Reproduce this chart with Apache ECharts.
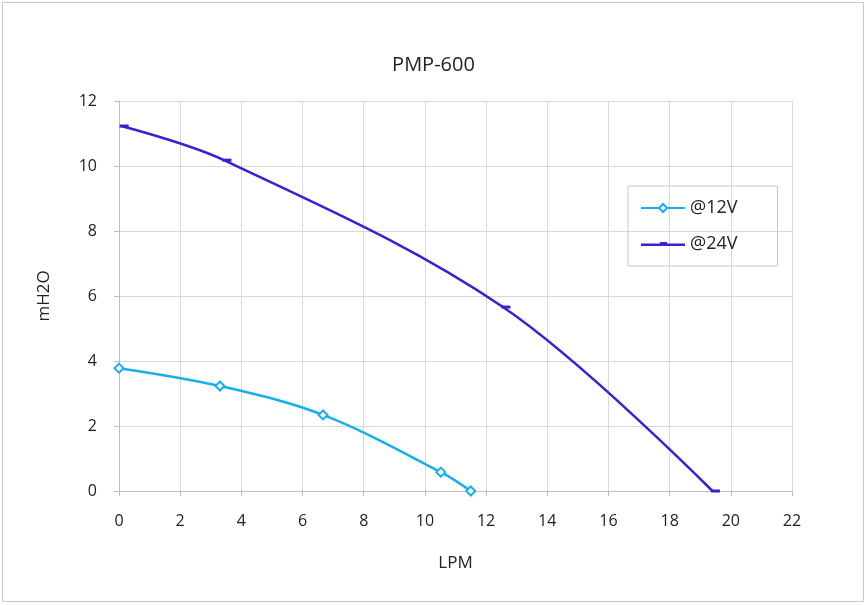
<!DOCTYPE html>
<html><head><meta charset="utf-8">
<script src="https://cdn.jsdelivr.net/npm/echarts@6/dist/echarts.min.js"></script>
<style>html,body{margin:0;padding:0;background:#fff}#c{width:867px;height:605px}</style>
</head><body><div id="c"></div>
<script>
const seriesNames = ['@12V', '@24V'];
const flow12 = [0, 3.3, 6.67, 10.52, 11.5];
const head12 = [3.78, 3.23, 2.34, 0.58, 0];
const flow24 = [0.07, 3.43, 12.55, 19.4];
const head24 = [11.23, 10.18, 5.66, 0];
const xTicks = [0, 22, 2];
const yTicks = [0, 12, 2];

const font = '"Open Sans", "Liberation Sans", sans-serif';
const chart = echarts.init(document.getElementById('c'));
chart.setOption({
  animation: false,
  textStyle: {fontFamily: font},
  title: {text: 'PMP-600', left: 'center', top: 50, textStyle: {fontSize: 20, fontWeight: 'normal', color: '#222', fontFamily: font}},
  graphic: [{type: 'rect', shape: {x: 2.5, y: 2.5, width: 861, height: 599}, style: {fill: 'none', stroke: '#c8c8c8', lineWidth: 1}}],
  grid: {left: 119, right: 75, top: 101, bottom: 114},
  legend: {
    orient: 'vertical', left: 628, top: 186,
    padding: [13, 40, 13, 12], itemGap: 18, itemWidth: 44, itemHeight: 10,
    borderColor: '#c8c8c8', borderWidth: 1,
    textStyle: {fontSize: 18, color: '#222', fontFamily: font},
    data: [
      {name: seriesNames[0]},
      {name: seriesNames[1], icon: 'path://M0,4 L44,4 L44,6.4 L0,6.4 Z M19,2.6 L26,2.6 L26,5 L19,5 Z'}
    ]
  },
  xAxis: {
    type: 'value', min: xTicks[0], max: xTicks[1], interval: xTicks[2],
    name: 'LPM', nameLocation: 'middle', nameGap: 64,
    nameTextStyle: {fontSize: 17, color: '#222'},
    axisLine: {lineStyle: {color: '#bfbfbf'}},
    axisTick: {show: true, length: 5, lineStyle: {color: '#bfbfbf'}},
    axisLabel: {fontSize: 16, color: '#222', margin: 22},
    splitLine: {lineStyle: {color: '#d9d9d9'}}
  },
  yAxis: {
    type: 'value', min: yTicks[0], max: yTicks[1], interval: yTicks[2],
    name: 'mH2O', nameLocation: 'middle', nameGap: 66,
    nameTextStyle: {fontSize: 17, color: '#222'},
    axisLine: {show: true, lineStyle: {color: '#bfbfbf'}},
    axisTick: {show: true, length: 5, lineStyle: {color: '#bfbfbf'}},
    axisLabel: {fontSize: 16, color: '#222', margin: 22},
    splitLine: {lineStyle: {color: '#d9d9d9'}}
  },
  series: [
    {
      name: seriesNames[0], type: 'line', smooth: 0.35,
      data: flow12.map((x, i) => [x, head12[i]]),
      symbol: 'diamond', symbolSize: 9,
      lineStyle: {color: '#17aef0', width: 2.5},
      itemStyle: {color: '#ffffff', borderColor: '#17aef0', borderWidth: 2}
    },
    {
      name: seriesNames[1], type: 'line', smooth: 0.35,
      data: flow24.map((x, i) => [x, head24[i]]),
      symbol: 'rect', symbolSize: [9, 3], symbolOffset: [3, 0],
      lineStyle: {color: '#3b1fd6', width: 2.5},
      itemStyle: {color: '#3b1fd6'}
    }
  ]
});
</script></body></html>
